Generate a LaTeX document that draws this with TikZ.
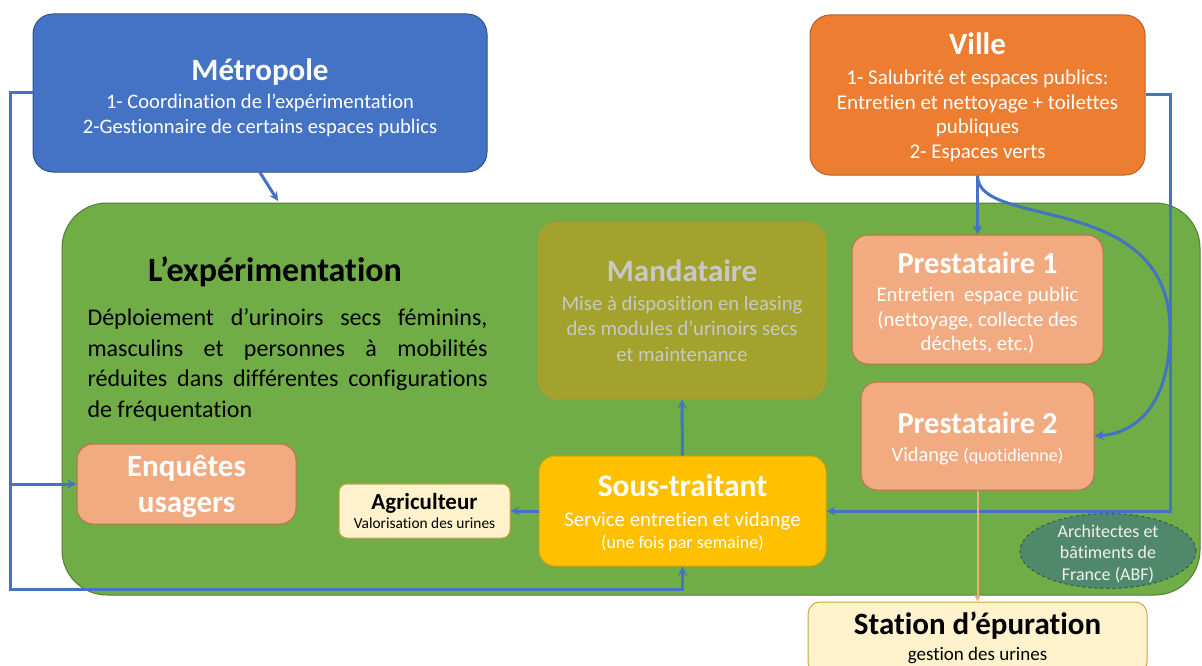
\documentclass[tikz,border=0pt]{standalone}
\usepackage{fontspec}
\setmainfont{Carlito}[Ligatures=NoCommon]
\usepackage{tikz}
\usetikzlibrary{shapes.geometric}

\definecolor{metroblue}{HTML}{4472C4}
\definecolor{metroedge}{HTML}{2F528F}
\definecolor{villeorange}{HTML}{ED7D31}
\definecolor{villeedge}{HTML}{B8612A}
\definecolor{expgreen}{HTML}{70AD47}
\definecolor{expedge}{HTML}{507E32}
\definecolor{salmon}{HTML}{F2AA80}
\definecolor{salmonedge}{HTML}{C0704A}
\definecolor{jaune}{HTML}{FFC000}
\definecolor{jauneedge}{HTML}{D9A300}
\definecolor{mandfill}{HTML}{A2A22C}
\definecolor{mandedge}{HTML}{B49A30}
\definecolor{mandtext}{HTML}{C8C8C8}
\definecolor{creme}{HTML}{FFF2CC}
\definecolor{cremeedge}{HTML}{C9A646}
\definecolor{abffill}{HTML}{50886C}
\definecolor{abfedge}{HTML}{2E5E4E}
\definecolor{linkblue}{HTML}{4472C4}

\newcommand{\fsz}[2]{\fontsize{#1}{#2}\selectfont}

\tikzset{
  box/.style={draw, rounded corners=16pt, line width=1pt, align=center, inner sep=0pt},
  conn/.style={->, >=stealth, draw=linkblue, line width=3pt},
}

\begin{document}
\begin{tikzpicture}[x=1pt,y=-1pt]
\useasboundingbox (0,0) rectangle (1202,666);

\node[box, rounded corners=45pt, fill=expgreen, draw=expedge, minimum width=1138pt, minimum height=392pt] (exp) at (631,399) {};

\node[box, rounded corners=20pt, fill=metroblue, draw=metroedge, text=white, minimum width=454pt, minimum height=158pt, font=\fsz{20.6}{25}] (metro) at (260,93)
  {{\fsz{31}{30}\bfseries Métropole}\\[3pt] 1- Coordination de l’expérimentation\\ 2-Gestionnaire de certains espaces publics\\[-30.5pt]};
\node[box, rounded corners=20pt, fill=villeorange, draw=villeedge, text=white, minimum width=335pt, minimum height=160pt, font=\fsz{21}{24.5}] (ville) at (977.5,95)
  {{\fsz{31}{30}\bfseries Ville}\\[6pt] 1- Salubrité et espaces publics:\\ Entretien et nettoyage + toilettes\\ publiques\\ 2- Espaces verts\\[-25pt]};

\node[font=\fsz{34}{36}\bfseries] (exptitle) at (275,272) {L’expérimentation};
\node[text width=400pt, align=justify, inner sep=0pt, font=\fsz{24}{30.7}] (exptext) at (287.5,365)
  {Déploiement d’urinoirs secs féminins,\linebreak masculins et personnes à mobilités\linebreak réduites dans différentes configurations\linebreak de fréquentation};

\node[box, fill=salmon, draw=salmonedge, text=white, minimum width=219pt, minimum height=80pt, font=\fsz{31}{36}\bfseries] (enq) at (186.5,484)
  {Enquêtes\\ usagers\\[-35pt]};
\node[box, rounded corners=8pt, fill=creme, draw=cremeedge, minimum width=171pt, minimum height=54pt, font=\fsz{15.4}{19}] (agri) at (424.5,511)
  {{\fsz{23}{20}\bfseries Agriculteur}\\ Valorisation des urines};
\node[box, fill=jaune, draw=jauneedge, text=white, minimum width=287pt, minimum height=110pt, font=\fsz{20.8}{22}] (sous) at (682.5,511)
  {{\fsz{31.5}{30}\bfseries Sous-traitant}\\[8pt] Service entretien et vidange\\ {\fsz{18}{22}(une fois par semaine)}\\[-23.5pt]};
\node[box, rounded corners=20pt, fill=mandfill, draw=mandedge, text=mandtext, minimum width=288pt, minimum height=177pt, font=\fsz{20.7}{25.5}] (mand) at (682,310.5)
  {{\fsz{31}{30}\bfseries Mandataire}\\[3pt] Mise à disposition en leasing\\ des modules d’urinoirs secs\\ et maintenance};
\node[box, fill=salmon, draw=salmonedge, text=white, minimum width=251pt, minimum height=129pt, font=\fsz{20.8}{24.5}] (p1) at (977.5,299.5)
  {{\fsz{30.5}{30}\bfseries Prestataire 1}\\[4pt] Entretien\ \ espace public\\ (nettoyage, collecte des\\ déchets, etc.)\\[-28pt]};
\node[box, fill=salmon, draw=salmonedge, text=white, minimum width=233pt, minimum height=108pt, font=\fsz{20.4}{24}] (p2) at (977.5,436)
  {{\fsz{30.5}{30}\bfseries Prestataire 2}\\[4pt] Vidange {\fsz{18}{24}(quotidienne)}\\[-26.5pt]};
\node[ellipse, draw=abfedge, dashed, fill=abffill, text=white!88!gray, line width=1pt, minimum width=176pt, minimum height=68pt, inner sep=0pt, align=center, font=\fsz{18}{21.5}] (abf) at (1108,551)
  {Architectes et\\ bâtiments de\\ France (ABF)\\[-24pt]};
\node[box, rounded corners=12pt, fill=creme, draw=cremeedge, minimum width=339pt, minimum height=72pt, font=\fsz{19}{24}] (station) at (977.5,638)
  {{\fsz{31}{30}\bfseries Station d’épuration}\\[2pt] gestion des urines};

\coordinate (expin) at (278,201);
\coordinate (bus) at (10,589);
\coordinate (vbus) at (1170,511);

\draw[conn] (metro.south) -- (expin);
\draw[conn] (metro.west) -| (bus) -| (sous.south);
\draw[conn] (bus |- enq.west) -- (enq.west);
\draw[conn] (ville.south) -- (p1.north);
\draw[conn] (ville.south) .. controls (977,230) and (1170,190) .. (1170,330) .. controls (1170,400) and (1140,433) .. (p2.east);
\draw[conn] (ville.east) -| (vbus) -- (sous.east);
\draw[conn] (sous.north) -- (mand.south);
\draw[conn] (sous.west) -- (agri.east);
\draw[->, >=stealth, draw=salmon, line width=2pt] (p2.south) -- (station.north);
\end{tikzpicture}
\end{document}
